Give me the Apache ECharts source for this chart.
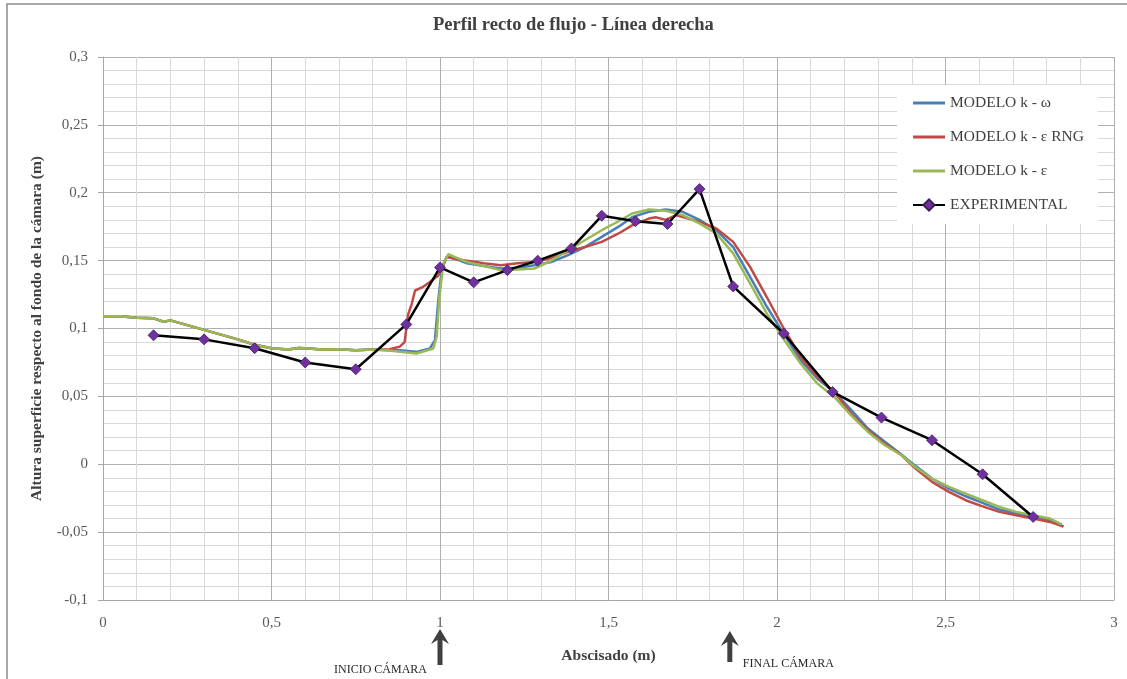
<!DOCTYPE html>
<html>
<head>
<meta charset="utf-8">
<script src="https://cdn.jsdelivr.net/npm/echarts@6/dist/echarts.min.js"></script>
<style>
  html, body { margin: 0; padding: 0; background: #fff; }
  #main { width: 1127px; height: 679px; }
</style>
</head>
<body>
<div id="main"></div>
<script>
  // series names
  var seriesNames = ['MODELO k - ω', 'MODELO k - ε RNG', 'MODELO k - ε', 'EXPERIMENTAL'];

  // MODELO k - omega
  var kwX = [0, 0.05, 0.1, 0.15, 0.18, 0.2, 0.25, 0.3, 0.35, 0.4, 0.45, 0.5, 0.55, 0.58, 0.6, 0.65, 0.7, 0.75, 0.8, 0.85,
    0.88, 0.93, 0.97, 0.985, 0.995, 1.005, 1.02, 1.05, 1.08, 1.13, 1.18, 1.23, 1.28, 1.33, 1.38, 1.43, 1.48, 1.53, 1.57,
    1.62, 1.67, 1.72, 1.77, 1.82, 1.87, 1.92, 1.97, 2.02, 2.07, 2.12, 2.17, 2.22, 2.27, 2.32, 2.37, 2.41, 2.46, 2.51,
    2.56, 2.61, 2.66, 2.71, 2.76, 2.81, 2.85];
  var kwY = [0.109, 0.109, 0.108, 0.1075, 0.105, 0.106, 0.1025, 0.099, 0.0955, 0.092, 0.088, 0.0855, 0.0845, 0.0857, 0.0855, 0.0845, 0.0848, 0.084, 0.0845, 0.084,
    0.084, 0.0828, 0.0853, 0.0914, 0.121, 0.143, 0.1528, 0.151, 0.148, 0.146, 0.1442, 0.1448, 0.1466, 0.149, 0.154, 0.16, 0.1675, 0.175, 0.182,
    0.186, 0.1877, 0.186, 0.18, 0.1724, 0.16, 0.138, 0.116, 0.096, 0.0766, 0.063, 0.0533, 0.04, 0.0263, 0.0165, 0.007, -0.001, -0.0105, -0.018,
    -0.0236, -0.0285, -0.0334, -0.0363, -0.0388, -0.0413, -0.0457];

  // MODELO k - epsilon RNG
  var rngX = [0, 0.05, 0.1, 0.15, 0.18, 0.2, 0.25, 0.3, 0.35, 0.4, 0.45, 0.5, 0.55, 0.58, 0.6, 0.65, 0.7, 0.75, 0.8, 0.85,
    0.88, 0.895, 0.905, 0.916, 0.926, 0.95, 0.97, 0.995, 1.02, 1.05, 1.08, 1.13, 1.18, 1.23, 1.28, 1.33, 1.38, 1.43, 1.48,
    1.53, 1.57, 1.62, 1.64, 1.67, 1.7, 1.77, 1.82, 1.87, 1.92, 1.97, 2.02, 2.07, 2.12, 2.17, 2.22, 2.27, 2.32, 2.37, 2.41,
    2.46, 2.51, 2.56, 2.61, 2.66, 2.71, 2.76, 2.81, 2.85];
  var rngY = [0.109, 0.109, 0.108, 0.1075, 0.105, 0.106, 0.1025, 0.099, 0.0955, 0.092, 0.088, 0.0855, 0.0845, 0.0857, 0.0855, 0.0845, 0.0848, 0.084, 0.0845, 0.0848,
    0.0865, 0.09, 0.11, 0.118, 0.128, 0.1307, 0.1343, 0.139, 0.1528, 0.151, 0.15, 0.148, 0.1466, 0.148, 0.149, 0.152, 0.1565, 0.16, 0.1638,
    0.17, 0.176, 0.181, 0.182, 0.18, 0.1835, 0.1786, 0.1737, 0.1638, 0.1454, 0.123, 0.1, 0.079, 0.0643, 0.0533, 0.0373, 0.025, 0.0152, 0.0066, -0.003,
    -0.013, -0.0204, -0.0265, -0.031, -0.0351, -0.0376, -0.04, -0.0425, -0.046];

  // MODELO k - epsilon
  var keX = [0, 0.05, 0.1, 0.15, 0.18, 0.2, 0.25, 0.3, 0.35, 0.4, 0.45, 0.5, 0.55, 0.58, 0.6, 0.65, 0.7, 0.75, 0.8, 0.85,
    0.88, 0.93, 0.98, 0.99, 0.998, 1.01, 1.025, 1.05, 1.08, 1.13, 1.18, 1.23, 1.28, 1.33, 1.38, 1.43, 1.48, 1.53, 1.57,
    1.62, 1.67, 1.72, 1.77, 1.82, 1.87, 1.92, 1.97, 2.02, 2.07, 2.12, 2.17, 2.22, 2.27, 2.32, 2.37, 2.41, 2.46, 2.51,
    2.56, 2.61, 2.66, 2.71, 2.76, 2.81, 2.845];
  var keY = [0.109, 0.109, 0.108, 0.1075, 0.105, 0.106, 0.1025, 0.099, 0.0955, 0.092, 0.088, 0.0855, 0.0845, 0.0857, 0.0855, 0.0845, 0.0848, 0.084, 0.0845, 0.0838,
    0.0828, 0.0816, 0.0853, 0.094, 0.123, 0.148, 0.1548, 0.152, 0.149, 0.146, 0.143, 0.1435, 0.1442, 0.15, 0.1577, 0.165, 0.1724, 0.179, 0.1847,
    0.1877, 0.1867, 0.1835, 0.1774, 0.17, 0.1553, 0.1332, 0.111, 0.092, 0.0742, 0.0594, 0.0496, 0.036, 0.0238, 0.014, 0.0066, -0.002, -0.0105, -0.0167,
    -0.0216, -0.0265, -0.0314, -0.0351, -0.0376, -0.04, -0.0442];

  // EXPERIMENTAL
  var expX = [0.15, 0.3, 0.45, 0.6, 0.75, 0.9, 1.0, 1.1, 1.2, 1.29, 1.39, 1.48, 1.58, 1.675, 1.77, 1.87, 2.02, 2.165, 2.31, 2.46, 2.61, 2.76];
  var expY = [0.095, 0.092, 0.0855, 0.075, 0.07, 0.103, 0.145, 0.134, 0.143, 0.15, 0.159, 0.183, 0.179, 0.177, 0.2027, 0.131, 0.0963, 0.0533, 0.0344, 0.0177, -0.0074, -0.0388];

  // camera markers below the axis
  var cameraX = [1.0, 1.86];
  var cameraLabels = ['INICIO CÁMARA', 'FINAL CÁMARA'];

  var colors = ['#4a7ebb', '#be4b48', '#98b954', '#000000'];
  var serif = '"Liberation Serif", "Times New Roman", serif';
  var lineIcon = 'path://M0,0 L32,0 L32,3 L0,3 Z';

  function pairs(xs, ys) {
    return xs.map(function (x, i) { return [x, ys[i]]; });
  }
  function comma(v) {
    return String(Math.round(v * 1000) / 1000).replace('.', ',');
  }

  var chartDom = document.getElementById('main');
  var chart = echarts.init(chartDom, null, { renderer: 'canvas' });

  var lineSeries = [[kwX, kwY], [rngX, rngY], [keX, keY]].map(function (d, i) {
    return {
      name: seriesNames[i],
      type: 'line',
      showSymbol: false,
      symbol: 'none',
      lineStyle: { width: 2.5, color: colors[i] },
      itemStyle: { color: colors[i] },
      data: pairs(d[0], d[1]),
      z: 2 + i
    };
  });

  var option = {
    animation: false,
    backgroundColor: '#fff',
    title: {
      text: 'Perfil recto de flujo - Línea derecha',
      left: 428,
      top: 11,
      textStyle: { fontFamily: serif, fontSize: 18.5, fontWeight: 'bold', color: '#404040' }
    },
    legend: {
      orient: 'vertical',
      left: 897,
      top: 85,
      padding: [10, 14, 11, 15],
      backgroundColor: '#fff',
      itemWidth: 32,
      itemHeight: 14,
      itemGap: 18,
      data: seriesNames.map(function (n, i) {
        return i < 3 ? { name: n, icon: lineIcon } : { name: n };
      }),
      textStyle: { fontFamily: serif, fontSize: 15.5, color: '#404040' }
    },
    grid: { left: 103, right: 13, top: 57, bottom: 79 },
    xAxis: {
      type: 'value',
      min: 0,
      max: 3,
      interval: 0.5,
      name: 'Abscisado (m)',
      nameLocation: 'middle',
      nameGap: 48,
      nameTextStyle: { fontFamily: serif, fontSize: 15.5, fontWeight: 'bold', color: '#404040' },
      axisLine: { show: true, onZero: false, lineStyle: { color: '#a6a6a6' } },
      axisTick: { show: false },
      minorTick: { show: false, splitNumber: 5 },
      axisLabel: { margin: 16, fontFamily: serif, fontSize: 15, color: '#595959', formatter: comma },
      splitLine: { show: true, lineStyle: { color: '#b0b0b0', width: 1 } },
      minorSplitLine: { show: true, lineStyle: { color: '#d9d9d9', width: 1 } }
    },
    yAxis: {
      type: 'value',
      min: -0.1,
      max: 0.3,
      interval: 0.05,
      name: 'Altura superficie respecto al fondo de la cámara (m)',
      nameLocation: 'middle',
      nameGap: 58,
      nameTextStyle: { fontFamily: serif, fontSize: 15.5, fontWeight: 'bold', color: '#404040' },
      axisLine: { show: true, onZero: false, lineStyle: { color: '#a6a6a6' } },
      axisTick: { show: true, length: 5, lineStyle: { color: '#a6a6a6' } },
      minorTick: { show: false, splitNumber: 5 },
      axisLabel: { margin: 15, fontFamily: serif, fontSize: 15, color: '#595959', formatter: comma },
      splitLine: { show: true, lineStyle: { color: '#b0b0b0', width: 1 } },
      minorSplitLine: { show: true, lineStyle: { color: '#d9d9d9', width: 1 } }
    },
    series: lineSeries.concat([{
      name: seriesNames[3],
      type: 'line',
      symbol: 'diamond',
      symbolSize: 11,
      showAllSymbol: true,
      lineStyle: { width: 2.5, color: '#000' },
      itemStyle: { color: '#7030a0', borderColor: '#3c1f5a', borderWidth: 0.8 },
      data: pairs(expX, expY),
      z: 10
    }])
  };

  chart.setOption(option);

  // frame + camera arrows, placed via the x axis
  var graphics = [{
    type: 'rect',
    shape: { x: 7, y: 4, width: 1200, height: 800 },
    style: { fill: 'none', stroke: '#8c8c8c', lineWidth: 1.5 },
    silent: true
  }];
  var arrowTops = [629, 631];
  var arrowLens = [36, 31];
  cameraX.forEach(function (v, i) {
    var px = chart.convertToPixel({ xAxisIndex: 0 }, v);
    var top = arrowTops[i], len = arrowLens[i];
    graphics.push({
      type: 'polygon',
      shape: { points: [[px, top], [px + 9, top + 15], [px + 2.5, top + 11], [px + 2.5, top + len], [px - 2.5, top + len], [px - 2.5, top + 11], [px - 9, top + 15]] },
      style: { fill: '#404040' },
      silent: true
    });
  });
  var p0 = chart.convertToPixel({ xAxisIndex: 0 }, cameraX[0]);
  var p1 = chart.convertToPixel({ xAxisIndex: 0 }, cameraX[1]);
  graphics.push({
    type: 'text',
    x: p0 - 13, y: 670,
    style: { text: cameraLabels[0], align: 'right', verticalAlign: 'middle', font: '12px ' + serif, fill: '#262626' },
    silent: true
  });
  graphics.push({
    type: 'text',
    x: p1 + 13, y: 664,
    style: { text: cameraLabels[1], align: 'left', verticalAlign: 'middle', font: '12px ' + serif, fill: '#262626' },
    silent: true
  });
  chart.setOption({ graphic: graphics });

  window.addEventListener('resize', function () {
    chart.resize();
  });
</script>
</body>
</html>
